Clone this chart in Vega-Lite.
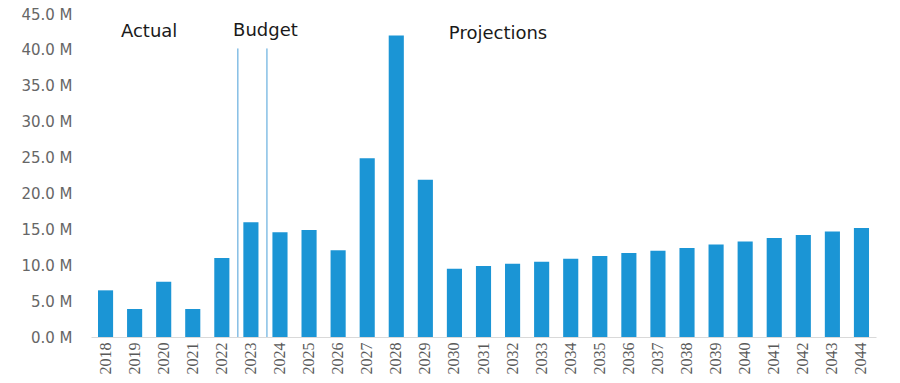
{
  "$schema": "https://vega.github.io/schema/vega-lite/v6.json",
  "width": 785,
  "height": 323,
  "autosize": {"type": "none"},
  "padding": {"left": 91, "top": 14, "right": 24, "bottom": 46},
  "background": "white",
  "config": {
    "view": {"stroke": null},
    "axisY": {"labelOverlap": false, "labelBound": false, "labelFlush": false},
    "axisX": {"labelOverlap": false}
  },
  "datasets": {
    "bars": [
      {"year": "2018", "value": 6.5},
      {"year": "2019", "value": 3.9},
      {"year": "2020", "value": 7.7},
      {"year": "2021", "value": 3.9},
      {"year": "2022", "value": 11.0},
      {"year": "2023", "value": 16.0},
      {"year": "2024", "value": 14.6},
      {"year": "2025", "value": 14.9},
      {"year": "2026", "value": 12.1},
      {"year": "2027", "value": 24.9},
      {"year": "2028", "value": 42.0},
      {"year": "2029", "value": 21.9},
      {"year": "2030", "value": 9.5},
      {"year": "2031", "value": 9.9},
      {"year": "2032", "value": 10.2},
      {"year": "2033", "value": 10.5},
      {"year": "2034", "value": 10.9},
      {"year": "2035", "value": 11.3},
      {"year": "2036", "value": 11.7},
      {"year": "2037", "value": 12.0},
      {"year": "2038", "value": 12.4},
      {"year": "2039", "value": 12.9},
      {"year": "2040", "value": 13.3},
      {"year": "2041", "value": 13.8},
      {"year": "2042", "value": 14.2},
      {"year": "2043", "value": 14.7},
      {"year": "2044", "value": 15.2}
    ],
    "dividers": [
      {"year": "2022", "value": 40.2},
      {"year": "2023", "value": 40.2}
    ],
    "labels": [
      {"year": "2020", "value": 42.5, "label": "Actual"},
      {"year": "2024", "value": 42.6, "label": "Budget"},
      {"year": "2032", "value": 42.2, "label": "Projections"}
    ]
  },
  "encoding": {
    "y": {
      "field": "value",
      "type": "quantitative",
      "scale": {"domain": [0, 45], "nice": false, "zero": true},
      "axis": {
        "title": null,
        "values": [0, 5, 10, 15, 20, 25, 30, 35, 40, 45],
        "tickCount": 10,
        "labelExpr": "format(datum.value, '.1f') + ' M'",
        "labelFont": "DejaVu Sans",
        "labelFontSize": 15,
        "labelColor": "#666666",
        "labelPadding": 19,
        "labelOverlap": false,
        "domain": false,
        "ticks": false,
        "grid": false
      }
    }
  },
  "layer": [
    {
      "data": {"name": "bars"},
      "mark": {"type": "bar", "color": "#1B95D5", "width": {"band": 0.52}},
      "encoding": {
        "x": {
          "field": "year",
          "type": "ordinal",
          "scale": {"paddingInner": 0, "paddingOuter": 0},
          "axis": {
            "title": null,
            "labelAngle": -90,
            "labelFont": "Liberation Sans Narrow",
            "labelFontSize": 16,
            "labelColor": "#595959",
            "labelPadding": 5,
            "ticks": false,
            "domainColor": "#D9D9D9",
            "domainWidth": 1
          }
        }
      }
    },
    {
      "data": {"name": "dividers"},
      "mark": {"type": "rule", "color": "#4A9FD8", "strokeWidth": 1, "xOffset": 1.5},
      "encoding": {
        "x": {"field": "year", "type": "ordinal", "bandPosition": 1},
        "y2": {"datum": 0}
      }
    },
    {
      "data": {"name": "labels"},
      "mark": {"type": "text", "font": "DejaVu Sans", "fontSize": 18, "color": "#1a1a1a", "align": "center", "baseline": "middle"},
      "encoding": {
        "x": {"field": "year", "type": "ordinal", "bandPosition": 0},
        "text": {"field": "label"}
      }
    }
  ]
}
